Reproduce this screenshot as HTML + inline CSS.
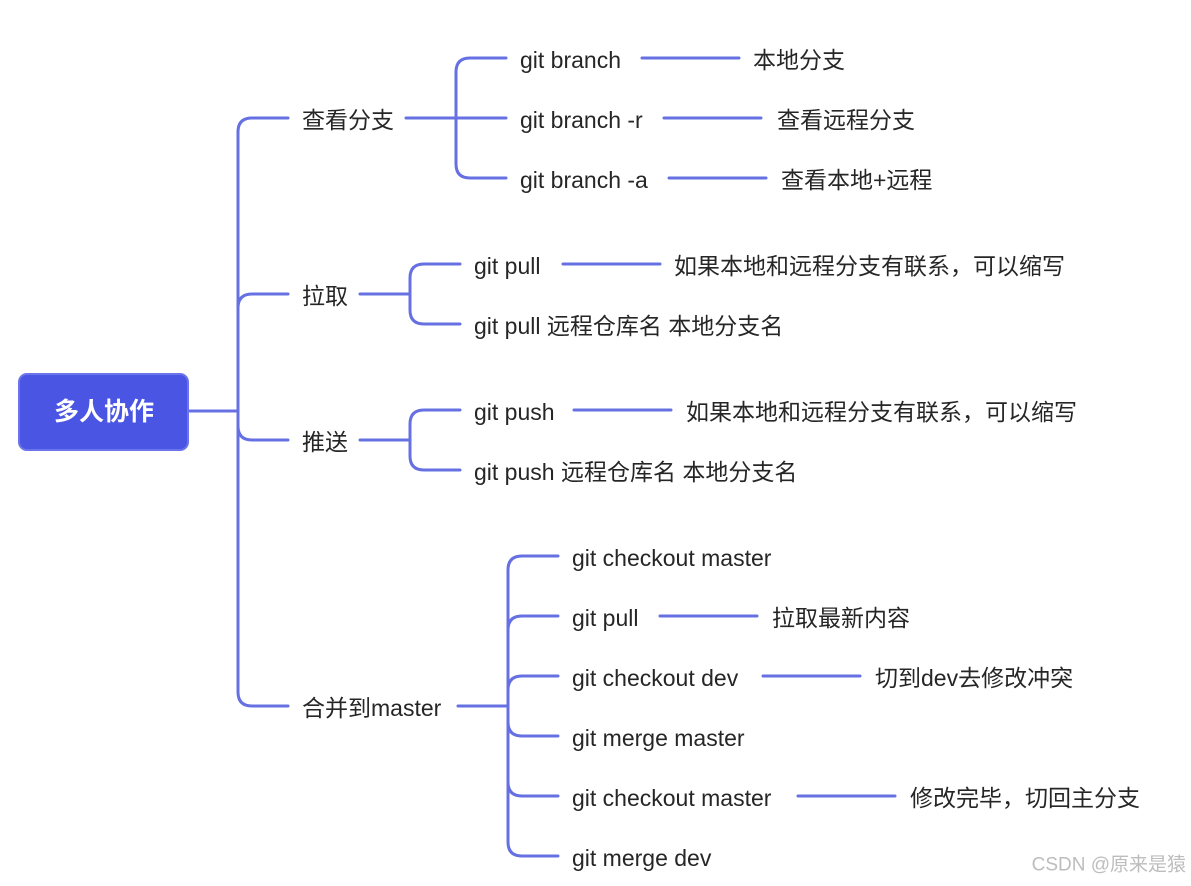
<!DOCTYPE html>
<html><head><meta charset="utf-8"><style>
html,body{margin:0;padding:0;background:#fff;width:1191px;height:886px;overflow:hidden}
svg text{font-family:"Liberation Sans","Noto Sans CJK SC",sans-serif;font-size:23px;fill:#262626;dominant-baseline:central}
</style></head><body>
<svg width="1191" height="886" viewBox="0 0 1191 886" xmlns="http://www.w3.org/2000/svg">
<g fill="none" stroke="#6670e2" stroke-width="3" stroke-linecap="round">
<path d="M188 411 H238"/>
<path d="M288 118 H252 Q238 118 238 132 V692 Q238 706 252 706 H288"/>
<path d="M288 294 H252 Q238 294 238 308"/>
<path d="M288 440 H252 Q238 440 238 426"/>
<path d="M406 118 H506"/>
<path d="M506 58 H470 Q456 58 456 72 V164 Q456 178 470 178 H506"/>
<path d="M360 294 H410"/>
<path d="M460 264 H424 Q410 264 410 278 V310 Q410 324 424 324 H460"/>
<path d="M360 440 H410"/>
<path d="M460 410 H424 Q410 410 410 424 V456 Q410 470 424 470 H460"/>
<path d="M458 706 H508"/>
<path d="M558 556 H522 Q508 556 508 570 V842 Q508 856 522 856 H558"/>
<path d="M558 616 H522 Q508 616 508 630"/>
<path d="M558 676 H522 Q508 676 508 690"/>
<path d="M558 736 H522 Q508 736 508 722"/>
<path d="M558 796 H522 Q508 796 508 782"/>
<path d="M642 58 H739"/>
<path d="M664 118 H761"/>
<path d="M669 178 H766"/>
<path d="M563 264 H660"/>
<path d="M574 410 H671"/>
<path d="M660 616 H757"/>
<path d="M763 676 H860"/>
<path d="M798 796 H895"/>
</g>
<rect x="19" y="374" width="169" height="76" rx="8" fill="#4a55e3" stroke="#6b74ea" stroke-width="2"/>
<text x="104" y="412" text-anchor="middle" style="fill:#fff;font-weight:bold;font-size:25px">多人协作</text>
<text x="302" y="120">查看分支</text>
<text x="302" y="296">拉取</text>
<text x="302" y="442">推送</text>
<text x="302" y="708">合并到master</text>
<text x="520" y="60">git branch</text>
<text x="520" y="120">git branch -r</text>
<text x="520" y="180">git branch -a</text>
<text x="753" y="60">本地分支</text>
<text x="777" y="120">查看远程分支</text>
<text x="781" y="180">查看本地+远程</text>
<text x="474" y="266">git pull</text>
<text x="474" y="326">git pull 远程仓库名 本地分支名</text>
<text x="674" y="266">如果本地和远程分支有联系，可以缩写</text>
<text x="474" y="412">git push</text>
<text x="474" y="472">git push 远程仓库名 本地分支名</text>
<text x="686" y="412">如果本地和远程分支有联系，可以缩写</text>
<text x="572" y="558">git checkout master</text>
<text x="572" y="618">git pull</text>
<text x="572" y="678">git checkout dev</text>
<text x="572" y="738">git merge master</text>
<text x="572" y="798">git checkout master</text>
<text x="572" y="858">git merge dev</text>
<text x="772" y="618">拉取最新内容</text>
<text x="875" y="678">切到dev去修改冲突</text>
<text x="910" y="798">修改完毕，切回主分支</text>
<text x="1186" y="865" text-anchor="end" style="fill:#bdbdbd;font-size:19px">CSDN @原来是猿</text>
</svg>
</body></html>
